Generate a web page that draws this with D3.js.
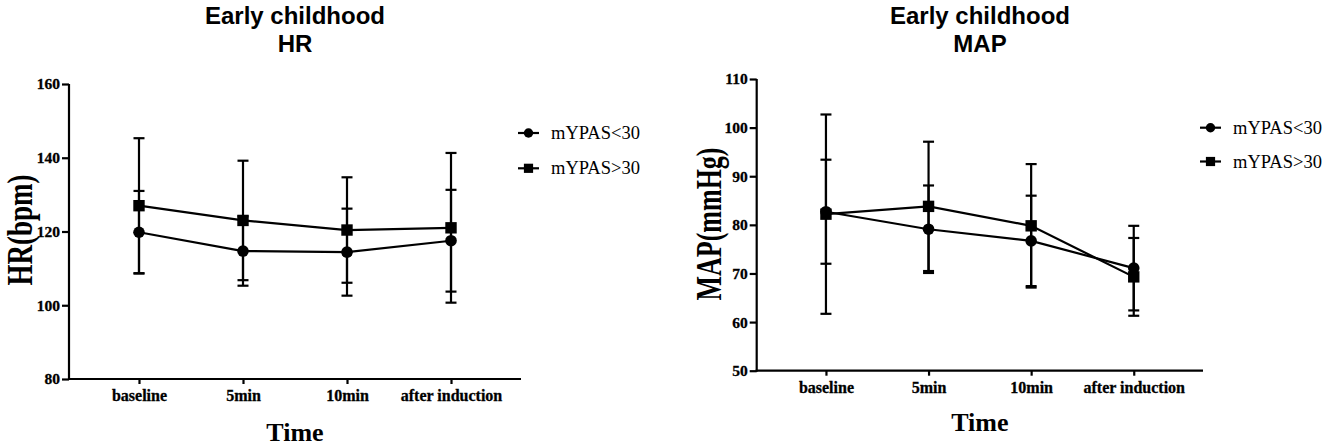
<!DOCTYPE html>
<html><head><meta charset="utf-8">
<script src="https://cdn.jsdelivr.net/npm/d3@7"></script>
<style>body{margin:0;background:#fff}svg{display:block}</style>
</head><body><svg id="c" width="1325" height="445"></svg>
<script>
// ---- data ----
const categories = ["baseline", "5min", "10min", "after induction"];
const seriesNames = ["mYPAS<30", "mYPAS>30"];

const hrLowMean  = [119.8, 114.7, 114.4, 117.5];
const hrLowSD    = [11.2, 9.4, 11.8, 13.8];
const hrHighMean = [127.0, 123.0, 120.4, 121.0];
const hrHighSD   = [18.3, 16.2, 14.3, 20.3];

const mapLowMean  = [82.7, 79.1, 76.7, 71.1];
const mapLowSD    = [10.7, 9.0, 9.3, 8.7];
const mapHighMean = [82.2, 83.8, 79.8, 69.3];
const mapHighSD   = [20.5, 13.3, 12.7, 8.0];

const hrTicks = [80, 100, 120, 140, 160];
const mapTicks = [50, 60, 70, 80, 90, 100, 110];

// ---- drawing ----
const svg = d3.select("#c");
const serif = "'Liberation Serif','Times New Roman',Times,serif";
const sans = "'Liberation Sans',Arial,Helvetica,sans-serif";
const SW = 2.2;

function panel(cfg) {
  const g = svg.append("g");
  const x = d3.scalePoint().domain(categories).range([cfg.x0, cfg.x1]).padding(cfg.pad);
  const y = d3.scaleLinear().domain([cfg.ticks[0], cfg.ticks[cfg.ticks.length - 1]]).range([cfg.yBot, cfg.yTop]);

  // titles
  g.append("text").attr("x", cfg.tx).attr("y", 23.5).attr("text-anchor", "middle")
    .style("font-family", sans).style("font-weight", "bold").style("font-size", "24px").text("Early childhood");
  g.append("text").attr("x", cfg.tx).attr("y", 51.7).attr("text-anchor", "middle")
    .style("font-family", sans).style("font-weight", "bold").style("font-size", "24px").text(cfg.title2);

  // axes
  const ya = g.append("g").attr("transform", `translate(${cfg.x0},0)`)
    .call(d3.axisLeft(y).tickValues(cfg.ticks).tickSize(7).tickSizeOuter(0).tickPadding(2));
  const xa = g.append("g").attr("transform", `translate(0,${cfg.yBot})`)
    .call(d3.axisBottom(x).tickSize(5).tickSizeOuter(0).tickPadding(6));
  [ya, xa].forEach(a => {
    a.attr("font-family", null).attr("font-size", null);
    a.selectAll("path,line").attr("stroke", "#000").attr("stroke-width", SW);
    a.selectAll("text").attr("fill", "#000").style("font-family", serif).style("font-weight", "bold")
      .attr("stroke", "#000").attr("stroke-width", 0.3);
  });
  ya.selectAll("text").style("font-size", "15.5px");
  xa.selectAll("text").style("font-size", "16px");
  ya.select(".domain").attr("d", `M0,${cfg.yTop}V${cfg.yBot + 1}`);
  xa.select(".domain").attr("d", `M${cfg.x0 - 1},0H${cfg.x1}`);

  // axis labels
  g.append("text").attr("transform", `translate(${cfg.ylx},${cfg.yly}) rotate(-90) scale(1,1.35)`)
    .attr("text-anchor", "middle").style("font-family", serif).style("font-weight", "bold")
    .style("font-size", cfg.ylfs + "px").text(cfg.ylabel);
  g.append("text").attr("x", (cfg.x0 + cfg.x1) / 2).attr("y", cfg.xly).attr("text-anchor", "middle")
    .style("font-family", serif).style("font-weight", "bold").style("font-size", "26px").text("Time");

  const series = [
    { name: seriesNames[0], mean: cfg.lowMean, sd: cfg.lowSD, shape: "circle" },
    { name: seriesNames[1], mean: cfg.highMean, sd: cfg.highSD, shape: "square" }
  ];
  const line = d3.line().x((d, i) => x(categories[i])).y(d => y(d));
  series.forEach(s => {
    g.append("path").attr("d", line(s.mean)).attr("fill", "none").attr("stroke", "#000").attr("stroke-width", SW);
  });
  series.forEach(s => {
    const eb = g.append("g").attr("stroke", "#000").attr("stroke-width", SW);
    categories.forEach((c, i) => {
      const cx = x(c), hi = y(s.mean[i] + s.sd[i]), lo = y(s.mean[i] - s.sd[i]);
      eb.append("line").attr("x1", cx).attr("x2", cx).attr("y1", hi).attr("y2", lo);
      eb.append("line").attr("x1", cx - 5.5).attr("x2", cx + 5.5).attr("y1", hi).attr("y2", hi);
      eb.append("line").attr("x1", cx - 5.5).attr("x2", cx + 5.5).attr("y1", lo).attr("y2", lo);
    });
  });
  series.forEach(s => {
    categories.forEach((c, i) => {
      const cx = x(c), cy = y(s.mean[i]);
      if (s.shape === "circle") g.append("circle").attr("cx", cx).attr("cy", cy).attr("r", 5.8).attr("fill", "#000");
      else g.append("rect").attr("x", cx - 5.7).attr("y", cy - 5.7).attr("width", 11.4).attr("height", 11.4).attr("fill", "#000");
    });
  });

  // legend
  series.forEach((s, i) => {
    const ly = cfg.legY[i];
    g.append("line").attr("x1", cfg.legX).attr("x2", cfg.legX + 21).attr("y1", ly).attr("y2", ly)
      .attr("stroke", "#000").attr("stroke-width", SW);
    const mx = cfg.legX + 10.5;
    if (s.shape === "circle") g.append("circle").attr("cx", mx).attr("cy", ly).attr("r", 4.7).attr("fill", "#000");
    else g.append("rect").attr("x", mx - 4.6).attr("y", ly - 4.6).attr("width", 9.2).attr("height", 9.2).attr("fill", "#000");
    g.append("text").attr("x", cfg.legX + 33).attr("y", ly + 6).style("font-family", serif)
      .style("font-size", "18.5px").attr("fill", "#000").text(s.name);
  });
}

panel({
  x0: 69, x1: 521, pad: 0.673, yTop: 84, yBot: 379, ticks: hrTicks,
  tx: 295, title2: "HR", ylabel: "HR(bpm)", ylx: 31.5, yly: 230, ylfs: 27, xly: 440.5,
  lowMean: hrLowMean, lowSD: hrLowSD, highMean: hrHighMean, highSD: hrHighSD,
  legX: 518, legY: [133, 168.3]
});
panel({
  x0: 756.7, x1: 1203, pad: 0.675, yTop: 79, yBot: 370.7, ticks: mapTicks,
  tx: 980, title2: "MAP", ylabel: "MAP(mmHg)", ylx: 720.5, yly: 224, ylfs: 26, xly: 431,
  lowMean: mapLowMean, lowSD: mapLowSD, highMean: mapHighMean, highSD: mapHighSD,
  legX: 1200, legY: [127.7, 161.5]
});
</script></body></html>
